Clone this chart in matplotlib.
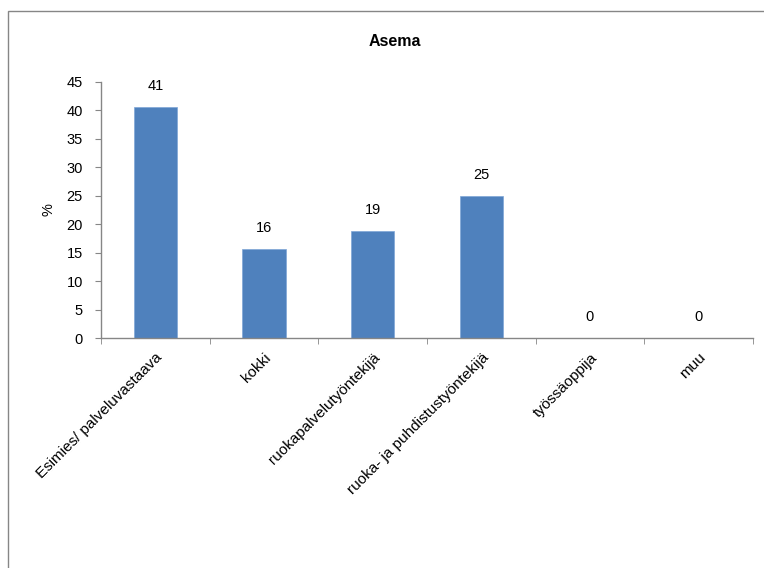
import matplotlib
matplotlib.use("Agg")
import matplotlib.pyplot as plt
from matplotlib.patches import Rectangle

# Asema-kysymyksen vastausjakauma (%)
categories = ["Esimies/ palveluvastaava", "kokki", "ruokapalvelutyöntekijä",
              "ruoka- ja puhdistustyöntekijä", "työssäoppija", "muu"]
values = [40.6, 15.6, 18.8, 25.0, 0.0, 0.0]
yticks = [0, 5, 10, 15, 20, 25, 30, 35, 40, 45]

BAR = "#4F81BD"
AXIS = "#868686"

plt.rcParams["font.family"] = ["Liberation Sans", "DejaVu Sans"]
plt.rcParams["font.size"] = 10.5

fig = plt.figure(figsize=(7.64, 5.68), dpi=100)
ax = fig.add_axes([101 / 764, 1 - 338 / 568, 652 / 764, 256 / 568])

x = list(range(len(categories)))
bars = ax.bar(x, values, width=0.4, color=BAR, edgecolor="#7FA6D6", linewidth=0.5)

# arvot pylväiden päälle
for xi, v in zip(x, values):
    ax.annotate(f"{v:.0f}", (xi, v), xytext=(0, 15), textcoords="offset points",
                ha="center", va="center", fontsize=10.5, color="#000000")

ax.set_xlim(-0.5, len(categories) - 0.5)
ax.set_ylim(0, 45)
ax.set_yticks(yticks)

ax.set_xticks(x)
ax.set_xticklabels(categories, rotation=45, ha="right", va="top",
                   rotation_mode="anchor", fontsize=11)
ax.set_xticks([i - 0.5 for i in range(len(categories) + 1)], minor=True)
ax.tick_params(axis="x", which="major", length=0, pad=9)
ax.tick_params(axis="x", which="minor", length=4, color=AXIS, direction="out")
ax.tick_params(axis="y", length=4, color=AXIS, direction="out", pad=9)

for s in ("top", "right"):
    ax.spines[s].set_visible(False)
for s in ("left", "bottom"):
    ax.spines[s].set_color(AXIS)
    ax.spines[s].set_linewidth(1.0)

ax.set_ylabel("%", fontsize=10.5, labelpad=8)
fig.text(395 / 764, 1 - 42 / 568, "Asema", ha="center", va="center",
         fontsize=11.5, fontweight="bold")

# kaavion kehys
fig.patches.append(Rectangle((7.5 / 764, -0.05), 1.0, 1 - 10.5 / 568 + 0.05,
                             transform=fig.transFigure, fill=False,
                             edgecolor=AXIS, linewidth=1.0))

fig.savefig("out.png", dpi=100)
